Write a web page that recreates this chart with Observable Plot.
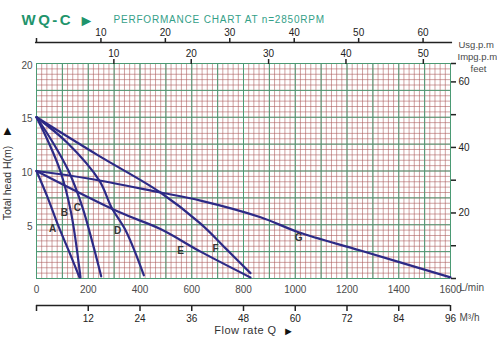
<!DOCTYPE html>
<html><head><meta charset="utf-8">
<script src="https://cdn.jsdelivr.net/npm/d3@7"></script>
<script src="https://cdn.jsdelivr.net/npm/@observablehq/plot@0.6"></script>
<style>html,body{margin:0;padding:0;background:#fff}svg{display:block}</style>
</head><body><div id="chart"></div>
<script>
// ---- data ----
const flowTicksLmin = [0, 200, 400, 600, 800, 1000, 1200, 1400, 1600];
const flowTicksM3h = [0, 12, 24, 36, 48, 60, 72, 84, 96];
const usgTicks = [0, 10, 20, 30, 40, 50, 60];
const impTicks = [10, 20, 30, 40, 50];
const headTicks = [5, 10, 15, 20];
const feetTicks = [0, 10, 20, 30, 40, 50, 60];
const feetLabelled = [20, 40, 60];
const LMIN_PER_USG = 24.9;   // as drawn on the chart's top scale
const LMIN_PER_IMP = 29.9;
const M_PER_FT = 0.3048;
const LMIN_PER_M3H = 1600 / 96;

// curves: [flow L/min, head m]
const curveA = [[0,10],[42,7.6],[86,4.8],[126,2.5],[166,0.1]];
const curveB = [[0,15],[46,12.7],[92,10],[133,6.2],[170,0.1]];
const curveC = [[0,15],[62,12.7],[124,10],[178,6.6],[250,0.2]];
const curveD = [[0,15],[120,12.6],[243,9.1],[290,6.6],[346,4.4],[415,0.3]];
const curveE = [[0,10],[317,6.2],[479,4.6],[634,2.5],[827,0.1]];
const curveF = [[0,15],[235,11.5],[479,8.0],[634,5.1],[731,2.8],[827,0.5]];
const curveG = [[0,10],[200,9.3],[479,8.0],[634,7.25],[866,5.7],[1013,4.3],[1252,2.6],[1600,0.1]];
const curveNames = ["A","B","C","D","E","F","G"];
const labelFlow = [62, 108, 158, 313, 557, 692, 1013];
const labelHead = [4.65, 6.1, 6.6, 4.4, 2.6, 2.8, 3.8];

const curves = [curveA, curveB, curveC, curveD, curveE, curveF, curveG];
const lineRows = curves.flatMap((c, i) => c.map(([q, h]) => ({name: curveNames[i], q, h})));
const labelRows = curveNames.map((n, i) => ({name: n, q: labelFlow[i], h: labelHead[i]}));

const ink = "#4a4a4a";
const curveColor = "#2d2a86";

const chart = Plot.plot({
  width: 497, height: 340,
  marginLeft: 36, marginRight: 47, marginTop: 63, marginBottom: 62,
  style: {fontFamily: "Liberation Sans, Arial, sans-serif", fontSize: "10px", background: "#fff", color: ink},
  x: {domain: [0, 1600], axis: null},
  y: {domain: [0, 20], axis: null},
  marks: [
    // grid
    Plot.gridX({ticks: d3.range(0, 1601, 20), stroke: "#a85656", strokeOpacity: 0.8, strokeWidth: 0.7}),
    Plot.gridY({ticks: d3.range(0, 20.001, 0.5), stroke: "#a85656", strokeOpacity: 0.8, strokeWidth: 0.7}),
    Plot.gridX({ticks: d3.range(0, 1601, 100), stroke: "#4b9a74", strokeOpacity: 1, strokeWidth: 1}),
    Plot.gridY({ticks: d3.range(0, 20.001, 2.5), stroke: "#4b9a74", strokeOpacity: 1, strokeWidth: 1}),
    // curves
    Plot.line(lineRows, {x: "q", y: "h", z: "name", stroke: curveColor, strokeWidth: 2.2, curve: "catmull-rom"}),
    Plot.text(labelRows, {x: "q", y: "h", text: "name", fontWeight: "bold", fontSize: 10, fill: "#333"}),
    // bottom L/min labels
    Plot.axisX({anchor: "bottom", ticks: flowTicksLmin, tickFormat: d => String(d), tickSize: 0, tickPadding: 7, label: null, color: ink}),
    // M3/h axis
    Plot.ruleY([0], {x1: 0, x2: 1600, dy: 27, stroke: "#222", strokeWidth: 1.5}),
    Plot.axisX({anchor: "bottom", ticks: flowTicksM3h.map(v => v * LMIN_PER_M3H), tickFormat: d => { const v = Math.round(d / LMIN_PER_M3H); return v === 0 ? "" : String(v); }, tickSize: 6, tickPadding: 3, dy: 27, label: null, color: "#222", strokeWidth: 1.5}),
    // Usg axis
    Plot.ruleY([20], {x1: -4, x2: 1608, dy: -21, stroke: "#222", strokeWidth: 1.5}),
    Plot.axisX({anchor: "top", ticks: usgTicks.map(v => v * LMIN_PER_USG), tickFormat: d => { const v = Math.round(d / LMIN_PER_USG); return v === 0 ? "" : String(v); }, tickSize: 5, tickPadding: 2, dy: -21, label: null, color: "#222", strokeWidth: 1.5}),
    // Imp axis
    Plot.axisX({anchor: "top", ticks: impTicks.map(v => v * LMIN_PER_IMP), tickFormat: d => String(Math.round(d / LMIN_PER_IMP)), tickSize: 5, tickPadding: 2, label: null, color: "#222", strokeWidth: 1.5}),
    // left head axis
    Plot.axisY({anchor: "left", ticks: headTicks, tickSize: 0, tickPadding: 4, dy: 2, label: null, color: ink}),
    // right feet axis
    Plot.axisY({anchor: "right", ticks: feetTicks.map(f => f * M_PER_FT).concat([20]), tickFormat: d => { const f = Math.round(d / M_PER_FT); return feetLabelled.includes(f) ? String(f) : ""; }, tickSize: 5, tickPadding: 3, label: null, color: "#222", strokeWidth: 1.5}),
    // unit names
    Plot.text(["Usg.p.m"], {text: d => d, frameAnchor: "top-right", dx: 8, dy: -22, textAnchor: "start", fill: ink, fontSize: 9.5}),
    Plot.text(["Impg.p.m"], {text: d => d, frameAnchor: "top-right", dx: 7, dy: -10, textAnchor: "start", fill: ink, fontSize: 9.5}),
    Plot.text(["feet"], {text: d => d, frameAnchor: "top-right", dx: 28, dy: 2, textAnchor: "middle", fill: ink, fontSize: 9.5}),
    Plot.text(["L/min"], {text: d => d, frameAnchor: "bottom-right", dx: 9, dy: 12, textAnchor: "start", fill: ink, fontSize: 10}),
    Plot.text(["M³/h"], {text: d => d, frameAnchor: "bottom-right", dx: 9, dy: 42, textAnchor: "start", fill: ink, fontSize: 10}),
    Plot.text(["Flow rate Q"], {text: d => d, frameAnchor: "bottom", dx: 2, dy: 55, textAnchor: "middle", fill: "#333", fontSize: 11}),
    Plot.text(["►"], {text: d => d, frameAnchor: "bottom", dx: 45, dy: 56, textAnchor: "middle", fill: "#111", fontSize: 11}),
    // y label
    Plot.text(["Total head H(m)"], {text: d => d, frameAnchor: "left", dx: -29, dy: 12, rotate: -90, textAnchor: "middle", fill: "#333", fontSize: 10.5}),
    Plot.text(["▲"], {text: d => d, frameAnchor: "left", dx: -29, dy: -40, textAnchor: "middle", fill: "#111", fontSize: 13}),
    // title
    Plot.text(["WQ-C"], {text: d => d, frameAnchor: "top-left", dx: -15, dy: -49, textAnchor: "start", fill: "#1f946c", fontSize: 15, fontWeight: "bold"}),
    Plot.text(["►"], {text: d => d, frameAnchor: "top-left", dx: 50, dy: -49, textAnchor: "middle", fill: "#1f946c", fontSize: 16}),
    Plot.text(["PERFORMANCE CHART AT n=2850RPM"], {text: d => d, frameAnchor: "top-left", dx: 77, dy: -48, textAnchor: "start", fill: "#34a088", fontSize: 10})
  ]
});
document.getElementById("chart").appendChild(chart);
d3.select(chart).selectAll("text").filter(function() { return this.textContent === "WQ-C"; }).attr("letter-spacing", "2.5px");
d3.select(chart).selectAll("text").filter(function() { return this.textContent === "PERFORMANCE CHART AT n=2850RPM"; }).attr("letter-spacing", "0.8px");
d3.select(chart).selectAll("text").filter(function() { return this.textContent === "Flow rate Q"; }).attr("letter-spacing", "0.5px");
</script>
</body></html>
